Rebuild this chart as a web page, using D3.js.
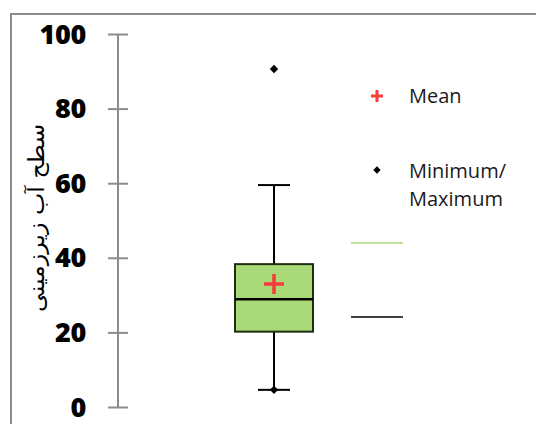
<!DOCTYPE html>
<html>
<head>
<meta charset="utf-8">
<script src="https://cdn.jsdelivr.net/npm/d3@7"></script>
<style>
  html, body { margin: 0; padding: 0; background: #fff; }
  svg { display: block; }
</style>
</head>
<body>
<svg id="chart" width="536" height="424"></svg>
<script>
// ---- data ----
const yTicks = [0, 20, 40, 60, 80, 100];
const yTitle = "سطح آب زیرزمینی";
const boxStats = { min: 4.6, q1: 20.2, median: 28.9, q3: 38.3, max: 59.5 };
const meanValue = 33.0;
const extremePoints = [90.6, 4.6];
const legendLabels = ["Mean", ["Minimum/", "Maximum"]];

// ---- layout ----
const W = 536, H = 424;
const svg = d3.select("#chart");
const y = d3.scaleLinear().domain([0, 100]).range([407, 34]);
const axisX = 118;
const boxCx = 274, boxW = 78, capW = 32;

// frame
svg.append("path")
  .attr("d", `M11,${H + 5} L11,14 L${W + 5},14`)
  .attr("fill", "none").attr("stroke", "#8c8c8c").attr("stroke-width", 2);

// y axis
const axis = d3.axisLeft(y).tickValues(yTicks).tickSize(10).tickPadding(22).tickFormat(d3.format("d"));
const gA = svg.append("g").attr("transform", `translate(${axisX},0)`).call(axis);
gA.select(".domain").remove();
gA.append("line").attr("x1", 0).attr("x2", 0).attr("y1", y(100)).attr("y2", y(0))
  .attr("stroke", "#8c8c8c").attr("stroke-width", 2);
gA.selectAll(".tick line").attr("x1", -10).attr("x2", 10)
  .attr("stroke", "#8c8c8c").attr("stroke-width", 2);
gA.selectAll(".tick text")
  .attr("fill", "#000").attr("font-family", "'Open Sans', sans-serif")
  .attr("font-weight", 800).attr("font-size", 27).attr("dy", "0.34em")
  .attr("letter-spacing", -0.3);

// y title
svg.append("text")
  .attr("transform", `translate(44,218) rotate(-90)`)
  .attr("text-anchor", "middle")
  .attr("font-family", "'DejaVu Sans', sans-serif")
  .attr("font-size", 22)
  .attr("textLength", 188).attr("lengthAdjust", "spacingAndGlyphs")
  .attr("fill", "#000")
  .text(yTitle);

// whiskers
const gB = svg.append("g");
gB.append("line").attr("x1", boxCx).attr("x2", boxCx)
  .attr("y1", y(boxStats.max)).attr("y2", y(boxStats.q3))
  .attr("stroke", "#000").attr("stroke-width", 2);
gB.append("line").attr("x1", boxCx).attr("x2", boxCx)
  .attr("y1", y(boxStats.q1)).attr("y2", y(boxStats.min))
  .attr("stroke", "#000").attr("stroke-width", 2);
[boxStats.max, boxStats.min].forEach(v => {
  gB.append("line").attr("x1", boxCx - capW / 2).attr("x2", boxCx + capW / 2)
    .attr("y1", y(v)).attr("y2", y(v)).attr("stroke", "#000").attr("stroke-width", 2);
});
// box
gB.append("rect")
  .attr("x", boxCx - boxW / 2).attr("width", boxW)
  .attr("y", y(boxStats.q3)).attr("height", y(boxStats.q1) - y(boxStats.q3))
  .attr("fill", "#a9da77").attr("stroke", "#1c2e10").attr("stroke-width", 2);
gB.append("line").attr("x1", boxCx - boxW / 2).attr("x2", boxCx + boxW / 2)
  .attr("y1", y(boxStats.median)).attr("y2", y(boxStats.median))
  .attr("stroke", "#000").attr("stroke-width", 2.5);
// mean
gB.append("path")
  .attr("d", "M-10,0H10M0,-10V10")
  .attr("transform", `translate(${boxCx},${y(meanValue)})`)
  .attr("stroke", "#f53b3b").attr("stroke-width", 3.5).attr("fill", "none");
// min/max points
gB.selectAll(".pt").data(extremePoints).join("path")
  .attr("d", d3.symbol().type(d3.symbolDiamond2).size(45))
  .attr("transform", d => `translate(${boxCx},${y(d)})`)
  .attr("fill", "#000");

// legend
const lg = svg.append("g").attr("font-family", "'Open Sans', sans-serif").attr("font-size", 20).attr("fill", "#1a1a1a");
lg.append("path").attr("d", "M-6,0H6M0,-6V6").attr("transform", "translate(377,96)")
  .attr("stroke", "#f53b3b").attr("stroke-width", 3).attr("fill", "none");
lg.append("text").attr("x", 409).attr("y", 103).text(legendLabels[0]);
lg.append("path").attr("d", d3.symbol().type(d3.symbolDiamond2).size(35)).attr("transform", "translate(377,170)").attr("fill", "#000");
const t2 = lg.append("text").attr("x", 409).attr("y", 178);
legendLabels[1].forEach((s, i) => t2.append("tspan").attr("x", 409).attr("dy", i ? 28 : 0).text(s));
lg.append("line").attr("x1", 351).attr("x2", 403).attr("y1", 243).attr("y2", 243).attr("stroke", "#a9da77").attr("stroke-width", 1.5);
lg.append("line").attr("x1", 351).attr("x2", 403).attr("y1", 317).attr("y2", 317).attr("stroke", "#000").attr("stroke-width", 1.5);
</script>
</body>
</html>
